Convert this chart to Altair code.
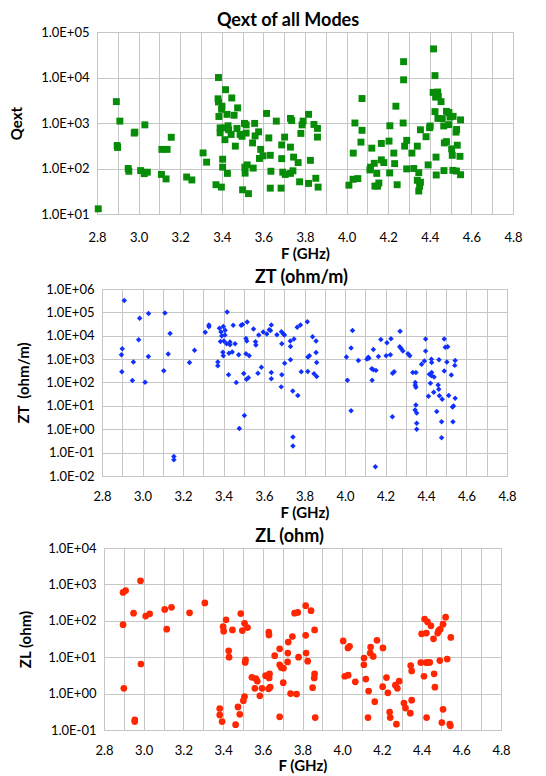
import altair as alt
import pandas as pd

# ---------------- data ----------------
qext_f = [2.806, 2.893, 2.910, 2.897, 2.899, 2.950, 2.953, 2.982, 2.979, 3.030,
          3.010, 3.027, 3.042, 3.110, 3.132, 3.112, 3.137, 3.157, 3.231, 3.256,
          3.310, 3.327, 3.372, 3.398, 3.384, 3.418, 3.382, 3.384, 3.401, 3.399,
          3.448, 3.476, 3.386, 3.425, 3.459, 3.392, 3.392, 3.412, 3.430, 3.433,
          3.415, 3.445, 3.473, 3.488, 3.497, 3.509, 3.517, 3.558, 3.517, 3.560,
          3.577, 3.548, 3.465, 3.404, 3.404, 3.427, 3.511, 3.522, 3.512, 3.551,
          3.500, 3.528, 3.587, 3.598, 3.581, 3.615, 3.662, 3.626, 3.633, 3.636,
          3.633, 3.685, 3.688, 3.702, 3.688, 3.693, 3.705, 3.730, 3.730, 3.736,
          3.730, 3.745, 3.767, 3.780, 3.786, 3.791, 3.817, 3.843, 3.860, 3.860,
          3.826, 3.774, 3.817, 3.852, 3.863, 4.011, 4.031, 4.054, 4.032, 4.040,
          4.074, 4.069, 4.074, 4.121, 4.112, 4.115, 4.133, 4.145, 4.155, 4.136,
          4.149, 4.167, 4.179, 4.167, 4.204, 4.208, 4.227, 4.231, 4.207, 4.237,
          4.272, 4.243, 4.274, 4.274, 4.279, 4.289, 4.314, 4.340, 4.289, 4.323,
          4.347, 4.340, 4.355, 4.351, 4.347, 4.355, 4.382, 4.399, 4.402, 4.392,
          4.430, 4.431, 4.418, 4.425, 4.416, 4.438, 4.428, 4.441, 4.454, 4.425,
          4.439, 4.460, 4.480, 4.492, 4.497, 4.512, 4.467, 4.492, 4.470, 4.480,
          4.529, 4.526, 4.548, 4.505, 4.532, 4.508, 4.545, 4.468, 4.511, 4.528,
          4.548, 3.742]
qext_v = [13, 2950, 1100, 320, 290, 100, 87, 630, 600, 910,
          90, 77, 83, 74, 59, 263, 263, 485, 65, 56,
          220, 138, 44, 39, 10000, 5400, 3400, 2900, 2340, 2000,
          3550, 2150, 1390, 1550, 1480, 780, 610, 780, 870, 710,
          430, 560, 760, 560, 510, 980, 910, 980, 600, 520,
          640, 365, 310, 160, 107, 78, 107, 120, 79, 102,
          34, 28, 263, 190, 166, 1620, 1100, 470, 195, 87,
          37, 37, 330, 490, 165, 83, 74, 78, 1260, 1130,
          295, 178, 135, 590, 910, 1100, 1550, 930, 760, 490,
          151, 51, 47, 61, 39, 43, 58, 60, 218, 1000,
          690, 380, 3450, 280, 93, 107, 130, 78, 48, 41,
          41, 355, 135, 155, 400, 870, 218, 128, 80, 2340,
          1000, 44, 22300, 8900, 310, 415, 218, 310, 98, 100,
          81, 55, 50, 41, 32, 710, 500, 790, 860, 120,
          178, 72, 42500, 11000, 4700, 4800, 3700, 3850, 2950, 1780,
          1260, 1250, 1800, 1700, 1350, 1400, 860, 920, 365, 390,
          720, 630, 1170, 270, 325, 195, 185, 90, 91, 88,
          73, 89]

zt_f = [2.910, 2.986, 3.030, 3.111, 3.136, 2.981, 2.900, 2.896, 2.955, 3.029,
        3.127, 2.898, 2.950, 3.013, 3.105, 3.257, 3.232, 3.155, 3.155, 3.310,
        3.328, 3.328, 3.372, 3.372, 3.418, 3.380, 3.399, 3.388, 3.408, 3.391,
        3.407, 3.402, 3.385, 3.415, 3.397, 3.399, 3.432, 3.432, 3.457, 3.448,
        3.487, 3.494, 3.517, 3.548, 3.427, 3.443, 3.475, 3.511, 3.515, 3.511,
        3.527, 3.425, 3.463, 3.500, 3.514, 3.523, 3.503, 3.478, 3.574, 3.558,
        3.560, 3.587, 3.570, 3.596, 3.614, 3.626, 3.636, 3.632, 3.636, 3.636,
        3.664, 3.686, 3.696, 3.701, 3.688, 3.702, 3.688, 3.685, 3.731, 3.730,
        3.748, 3.731, 3.764, 3.742, 3.767, 3.743, 3.743, 3.780, 3.814, 3.840,
        3.857, 3.817, 3.824, 3.857, 3.860, 3.784, 3.816, 3.847, 3.860, 4.007,
        4.012, 4.030, 4.037, 4.066, 4.030, 4.108, 4.115, 4.118, 4.140, 4.165,
        4.132, 4.140, 4.153, 4.134, 4.177, 4.207, 4.227, 4.203, 4.224, 4.272,
        4.270, 4.278, 4.286, 4.311, 4.320, 4.235, 4.243, 4.234, 4.335, 4.350,
        4.347, 4.347, 4.350, 4.350, 4.346, 4.354, 4.354, 4.354, 4.398, 4.398,
        4.378, 4.392, 4.427, 4.428, 4.464, 4.417, 4.428, 4.427, 4.440, 4.422,
        4.412, 4.438, 4.460, 4.463, 4.466, 4.480, 4.453, 4.477, 4.477, 4.490,
        4.495, 4.507, 4.503, 4.490, 4.525, 4.512, 4.531, 4.536, 4.533, 4.544,
        4.542, 4.544, 4.150]
zt_v = [320000, 56000, 89000, 95000, 12600, 6800, 2800, 1550, 760, 1300,
        1660, 290, 123, 102, 315, 2400, 720, 0.068, 0.049, 14000,
        29000, 24000, 760, 520, 103000, 21000, 25000, 14500, 17000, 9700,
        10700, 5900, 5700, 4500, 1950, 1400, 5400, 4100, 4500, 28000,
        28000, 30000, 39000, 19500, 1800, 2000, 1550, 7600, 5900, 1700,
        1400, 215, 100, 245, 138, 158, 3.9, 1.07, 10700, 5500,
        4000, 450, 250, 14500, 11800, 18000, 29000, 16600, 270, 145,
        11000, 14800, 11800, 10700, 4500, 660, 215, 65, 950, 6000,
        7200, 3500, 23000, 43, 28, 0.47, 0.19, 29000, 40000, 9100,
        5900, 1230, 1400, 1900, 720, 290, 295, 235, 180, 1230,
        126, 3000, 16600, 870, 6.2, 1000, 1200, 1100, 2600, 1300,
        390, 355, 330, 126, 6900, 5000, 7400, 1400, 1550, 15500,
        3400, 2800, 2200, 1700, 1400, 250, 290, 3.4, 270, 270,
        100, 76, 63, 11, 6.6, 4.9, 1.8, 1.0, 7200, 2200,
        600, 830, 1000, 720, 950, 225, 270, 195, 170, 93,
        26, 38, 79, 51, 27, 19, 5.7, 2.1, 0.43, 7200,
        3200, 3400, 760, 310, 210, 28, 9, 10, 2.1, 870,
        540, 21, 0.025]

zl_f = [2.896, 2.909, 2.984, 2.949, 3.010, 3.030, 3.106, 3.140, 2.896, 3.116,
        3.231, 3.308, 2.986, 2.900, 2.955, 2.955, 3.415, 3.400, 3.403, 3.447,
        3.489, 3.508, 3.497, 3.523, 3.630, 3.631, 3.428, 3.430, 3.513, 3.511,
        3.545, 3.565, 3.572, 3.560, 3.596, 3.614, 3.634, 3.632, 3.629, 3.637,
        3.585, 3.508, 3.502, 3.475, 3.484, 3.463, 3.383, 3.383, 3.395, 3.685,
        3.660, 3.685, 3.728, 3.749, 3.726, 3.780, 3.685, 3.693, 3.704, 3.725,
        3.703, 3.740, 3.770, 3.760, 3.776, 3.816, 3.843, 3.816, 3.861, 3.818,
        3.826, 3.861, 3.859, 3.851, 3.864, 4.005, 4.029, 4.037, 4.013, 4.030,
        4.066, 4.110, 4.109, 4.143, 4.141, 4.156, 4.175, 4.205, 4.119, 4.133,
        4.130, 4.164, 4.204, 4.223, 4.230, 4.242, 4.239, 4.273, 4.268, 4.278,
        4.287, 4.311, 4.319, 4.343, 4.350, 4.345, 4.350, 4.396, 4.422, 4.431,
        4.441, 4.412, 4.463, 4.467, 4.425, 4.400, 4.424, 4.415, 4.430, 4.447,
        4.460, 4.481, 4.486, 4.494, 4.508, 4.521, 4.547, 4.492, 4.529, 4.508,
        4.502, 4.542, 4.545]
zl_v = [600, 680, 1260, 162, 135, 155, 205, 235, 78, 59,
        166, 310, 6.5, 1.4, 0.19, 0.17, 107, 69, 52, 56,
        158, 85, 54, 65, 49, 41, 15, 10, 8.5, 7.2,
        2.8, 2.6, 2.2, 1.4, 1.4, 3.1, 3.5, 2.7, 1.35, 1.5,
        0.87, 0.83, 0.64, 0.43, 0.27, 0.14, 0.39, 0.26, 0.17, 0.23,
        11, 17, 26, 37, 13, 10, 6.2, 5.2, 5.0, 7.4,
        2.0, 1.0, 0.97, 162, 170, 260, 190, 40, 56, 13,
        7.8, 3.5, 2.7, 1.45, 0.22, 28, 18, 20, 3.0, 3.2,
        2.1, 9.5, 6.2, 19, 13, 10.5, 29, 18, 2.5, 1.17,
        0.22, 0.6, 1.55, 2.75, 1.05, 0.22, 0.31, 0.145, 1.7, 1.4,
        2.2, 0.55, 0.40, 0.29, 0.66, 5.9, 4.2, 7.1, 7.1, 7.1,
        7.2, 3.0, 3.5, 1.5, 0.22, 44, 46, 112, 93, 73,
        32, 46, 54, 59, 81, 126, 35, 8.1, 8.9, 0.37,
        0.16, 0.145, 0.13]

x_grid = [2.8, 2.9, 3.0, 3.1, 3.2, 3.3, 3.4, 3.5, 3.6, 3.7, 3.8,
          3.9, 4.0, 4.1, 4.2, 4.3, 4.4, 4.5, 4.6, 4.7, 4.8]
qext_ticks = [1e1, 1e2, 1e3, 1e4, 1e5]
zt_ticks = [1e-2, 1e-1, 1e0, 1e1, 1e2, 1e3, 1e4, 1e5, 1e6]
zl_ticks = [1e-1, 1e0, 1e1, 1e2, 1e3, 1e4]

# ---------------- style ----------------
FONT = "Lato"
GRID = "#c6c6c6"
EXP = "round(log(datum.value)/LN10)"
Y_LABEL = ("'1.0E' + (" + EXP + " < 0 ? '-' : '+') + (abs(" + EXP +
           ") < 10 ? '0' : '') + abs(" + EXP + ")")
X_LABEL = "round(datum.value*10) % 2 == 0 ? format(datum.value, '.1f') : ''"


def panel(f, v, ticks, ydom, ytitle, title, color, shape, size,
          width, height, title_dx, ytitle_pad, xlab_pad, xtitle_pad):
    df = pd.DataFrame({"F": f, "V": v})
    return alt.Chart(
        df,
        title=alt.TitleParams(title, font=FONT, fontSize=18, fontWeight="bold",
                              color="#000000", anchor="middle", dx=title_dx,
                              offset=-4),
    ).mark_point(shape=shape, filled=True, size=size, color=color,
                 opacity=1).encode(
        x=alt.X("F:Q",
                scale=alt.Scale(domain=[2.8, 4.8], nice=False, zero=False),
                axis=alt.Axis(values=x_grid, labelExpr=X_LABEL,
                              title="F (GHz)", labelFlush=False,
                              labelOverlap=False, labelPadding=xlab_pad,
                              titlePadding=xtitle_pad)),
        y=alt.Y("V:Q",
                scale=alt.Scale(type="log", domain=ydom, nice=False),
                axis=alt.Axis(values=ticks, labelExpr=Y_LABEL, title=ytitle,
                              labelFlush=False, labelOverlap=False,
                              labelPadding=8, titlePadding=ytitle_pad)),
    ).properties(width=width, height=height)


def spacer(w, h):
    return alt.Chart(pd.DataFrame({"a": [0]})).mark_point(opacity=0).encode(
        x=alt.X("a:Q", axis=None), y=alt.Y("a:Q", axis=None)
    ).properties(width=w, height=h, view=alt.ViewBackground(stroke=None))


p1 = panel(qext_f, qext_v, qext_ticks, [1e1, 1e5], "Qext", "Qext of all Modes",
           "#078c07", "square", 48, 416, 182, -17, 16, 17, 2)
p2 = panel(zt_f, zt_v, zt_ticks, [1e-2, 1e6], "ZT\u00a0 (ohm/m)", "ZT (ohm/m)",
           "#1030ff", "diamond", 30, 405, 187, -3, 14, 14, 2)
p3 = panel(zl_f, zl_v, zl_ticks, [1e-1, 1e4], "ZL (ohm)", "ZL (ohm)",
           "#ff2600", "circle", 45, 397, 182, -13, 14, 14, 1)

row1 = alt.hconcat(spacer(2, 182), p1, spacing=0, bounds="flush")
row2 = alt.hconcat(spacer(7, 187), p2, spacing=0, bounds="flush")
row3 = alt.hconcat(spacer(9, 182), p3, spacing=0, bounds="flush")

chart = alt.vconcat(row1, row2, row3, spacing=6).properties(
    padding={"left": 1, "top": 3, "right": 5, "bottom": 0}
).configure_view(stroke=GRID, strokeWidth=1).configure_axis(
    labelFont=FONT, labelFontSize=13, labelColor="#000000",
    titleFont=FONT, titleFontSize=15, titleFontWeight="bold",
    titleColor="#000000", ticks=False, domainColor=GRID, gridColor=GRID,
    gridOpacity=1, gridWidth=1
)

chart.save("out.html", embed_options={"renderer": "svg", "actions": False})
